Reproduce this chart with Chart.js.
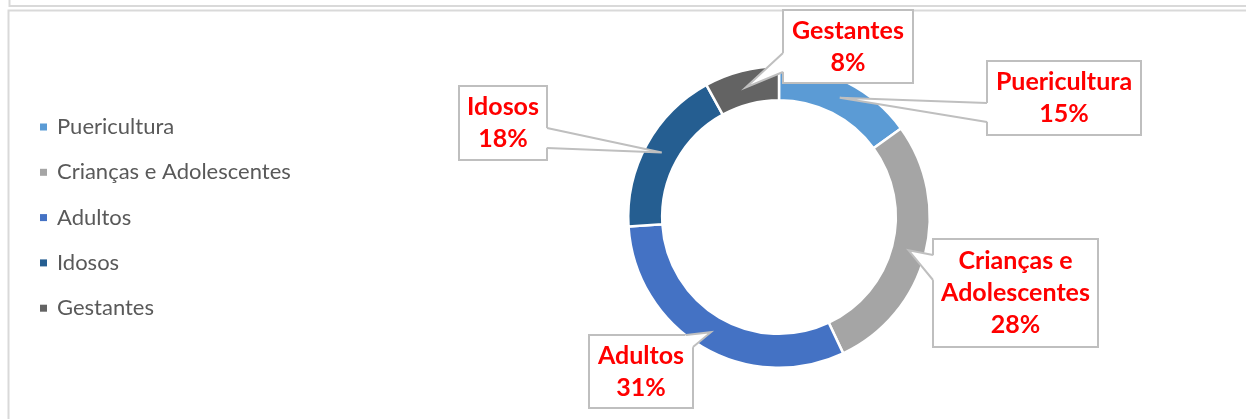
<!DOCTYPE html>
<html>
<head>
<meta charset="utf-8">
<script src="https://cdn.jsdelivr.net/npm/chart.js@4"></script>
<style>
  html, body { margin: 0; padding: 0; background: #fff; }
  #wrap { width: 1246px; height: 419px; position: relative; }
</style>
</head>
<body>
<div id="wrap"><canvas id="chart"></canvas></div>
<script>
var categories = ['Puericultura', 'Crianças e Adolescentes', 'Adultos', 'Idosos', 'Gestantes'];
var shares = [15, 28, 31, 18, 8];
var sliceColors = ['#5B9BD5', '#A5A5A5', '#4472C4', '#255E91', '#636363'];

// where each callout box sits, and where its pointer leaves the box
var calloutBoxes = [
  {x: 987, y: 61, w: 154, h: 74, base: [[987, 103], [987, 122]]},
  {x: 933, y: 239, w: 165, h: 108, base: [[933, 255], [933, 280]]},
  {x: 589, y: 335, w: 104, h: 73, base: [[686, 335], [693, 347]]},
  {x: 459, y: 86, w: 88, h: 74, base: [[547, 128], [547, 148]]},
  {x: 783, y: 10, w: 130, h: 73, base: [[783, 53], [783, 72]]}
];

var frame = {
  id: 'frame',
  beforeDraw: function(chart) {
    var ctx = chart.ctx;
    ctx.save();
    ctx.strokeStyle = '#D9D9D9';
    ctx.lineWidth = 2;
    ctx.beginPath();
    ctx.moveTo(9.5, 0); ctx.lineTo(9.5, 6); ctx.lineTo(1246, 6);
    ctx.moveTo(1246, 10.5); ctx.lineTo(8.5, 10.5); ctx.lineTo(8.5, 419);
    ctx.stroke();
    ctx.restore();
  }
};

function wrapText(ctx, text, maxW) {
  var words = text.split(' ');
  var lines = [];
  var cur = '';
  words.forEach(function(w) {
    var test = cur ? cur + ' ' + w : w;
    if (cur && ctx.measureText(test).width > maxW) {
      lines.push(cur);
      cur = w;
    } else {
      cur = test;
    }
  });
  if (cur) lines.push(cur);
  return lines;
}

var callouts = {
  id: 'callouts',
  afterDatasetsDraw: function(chart) {
    var ctx = chart.ctx;
    var arcs = chart.getDatasetMeta(0).data;
    ctx.save();
    ctx.font = 'bold 25px Lato';
    arcs.forEach(function(arc, i) {
      var box = calloutBoxes[i];
      var tip = arc.tooltipPosition();
      var cx = box.x + box.w / 2, cy = box.y + box.h / 2;

      ctx.fillStyle = '#fff';
      ctx.strokeStyle = '#BFBFBF';
      ctx.lineWidth = 2;
      ctx.fillRect(box.x, box.y, box.w, box.h);
      ctx.strokeRect(box.x, box.y, box.w, box.h);

      // pointer: cover the box edge and draw the two sides
      var inner = box.base.map(function(p) {
        var dx = cx - p[0], dy = cy - p[1];
        var d = Math.sqrt(dx * dx + dy * dy);
        return [p[0] + dx / d * 3, p[1] + dy / d * 3];
      });
      ctx.beginPath();
      ctx.moveTo(inner[0][0], inner[0][1]);
      ctx.lineTo(box.base[0][0], box.base[0][1]);
      ctx.lineTo(tip.x, tip.y);
      ctx.lineTo(box.base[1][0], box.base[1][1]);
      ctx.lineTo(inner[1][0], inner[1][1]);
      ctx.closePath();
      ctx.fill();
      ctx.beginPath();
      ctx.moveTo(box.base[0][0], box.base[0][1]);
      ctx.lineTo(tip.x, tip.y);
      ctx.lineTo(box.base[1][0], box.base[1][1]);
      ctx.stroke();

      var lines = wrapText(ctx, categories[i], box.w - 10);
      lines.push(shares[i] + '%');
      var lh = 32;
      var y0 = cy - (lines.length - 1) * lh / 2;
      ctx.fillStyle = '#FF0000';
      ctx.textAlign = 'center';
      ctx.textBaseline = 'middle';
      lines.forEach(function(t, k) {
        ctx.fillText(t, cx, y0 + k * lh);
      });
    });
    ctx.restore();
  }
};

var sideLegend = {
  id: 'sideLegend',
  afterDraw: function(chart) {
    var ctx = chart.ctx;
    ctx.save();
    ctx.font = '22px Lato';
    ctx.textBaseline = 'middle';
    ctx.textAlign = 'left';
    categories.forEach(function(c, i) {
      var y = 127 + i * 45.3;
      ctx.fillStyle = sliceColors[i];
      ctx.fillRect(40, y - 3.5, 7, 7);
      ctx.fillStyle = '#595959';
      ctx.fillText(c, 57, y);
    });
    ctx.restore();
  }
};

var ctx = document.getElementById('chart');
var chart = new Chart(ctx, {
  type: 'doughnut',
  data: {
    labels: categories,
    datasets: [{
      data: shares,
      backgroundColor: sliceColors,
      borderColor: '#ffffff',
      borderWidth: 2.5
    }]
  },
  options: {
    responsive: true,
    maintainAspectRatio: false,
    animation: false,
    cutout: '77.5%',
    layout: {padding: {left: 627, right: 315, top: 65, bottom: 50}},
    plugins: {
      legend: {display: false},
      tooltip: {enabled: false}
    }
  },
  plugins: [frame, callouts, sideLegend]
});
</script>
</body>
</html>
